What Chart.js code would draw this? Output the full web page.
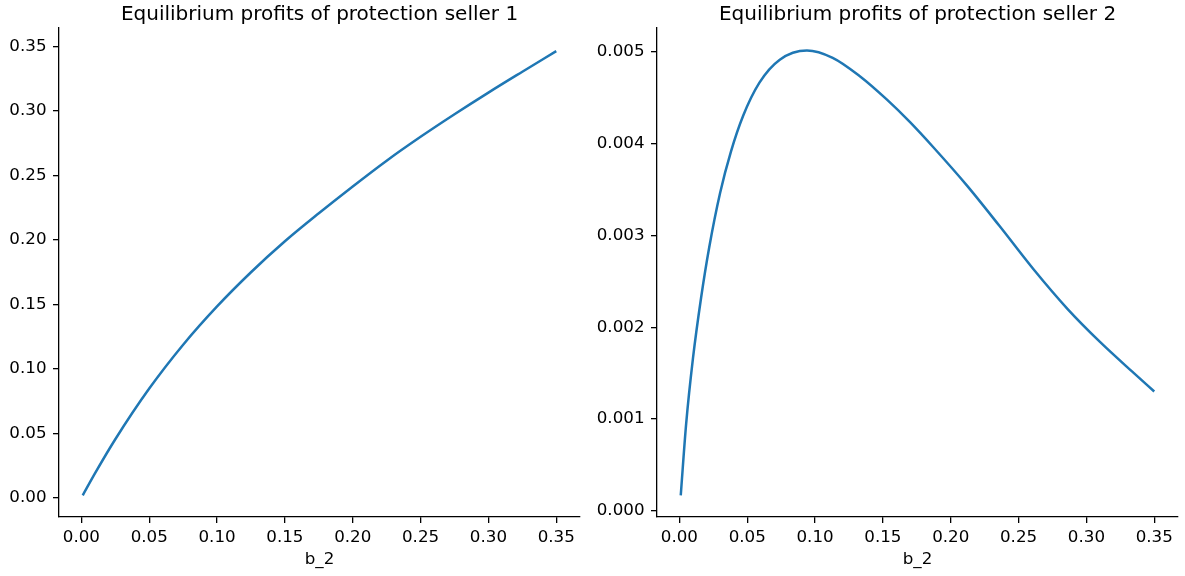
<!DOCTYPE html>
<html>
<head>
<meta charset="utf-8">
<title>Equilibrium profits of protection sellers</title>
<script src="https://cdn.jsdelivr.net/npm/chart.js@4.4.1/dist/chart.umd.min.js"></script>
<style>
  html, body { margin: 0; padding: 0; background: #fff; }
  #wrap { position: relative; width: 1185px; height: 576px; }
  canvas { position: absolute; top: 0; }
  #left { left: 0; width: 592px; height: 576px; }
  #right { left: 592px; width: 593px; height: 576px; }
</style>
</head>
<body>
<div id="wrap">
  <canvas id="left" width="592" height="576"></canvas>
  <canvas id="right" width="593" height="576"></canvas>
</div>
<script>
// Data
const b2Seller1 = [0.001, 0.01, 0.025, 0.05, 0.075, 0.10, 0.125, 0.15, 0.175, 0.20, 0.225, 0.25, 0.275, 0.30, 0.325, 0.35];
const profit1 = [0.002, 0.019, 0.0455, 0.0848, 0.1188, 0.1485, 0.175, 0.199, 0.2207, 0.2415, 0.2615, 0.280, 0.2975, 0.3143, 0.3305, 0.3465];

const b2Seller2 = [0.001, 0.005, 0.01, 0.016, 0.022, 0.03, 0.038, 0.047, 0.059, 0.074, 0.094, 0.113, 0.133, 0.153, 0.17, 0.187, 0.212, 0.236, 0.261, 0.286, 0.31, 0.335, 0.35];
const profit2 = [0.00017, 0.00095, 0.00166, 0.00232, 0.00287, 0.00346, 0.00391, 0.0043, 0.00466, 0.00491, 0.00501, 0.00493, 0.00473, 0.004475, 0.00423, 0.00396, 0.00354, 0.0031, 0.00263, 0.0022, 0.00184, 0.0015, 0.0013];

const xTicks = [0, 0.05, 0.10, 0.15, 0.20, 0.25, 0.30, 0.35];
const yTicks1 = [0, 0.05, 0.10, 0.15, 0.20, 0.25, 0.30, 0.35];
const yTicks2 = [0, 0.001, 0.002, 0.003, 0.004, 0.005];

Chart.defaults.font.family = "'DejaVu Sans', sans-serif";
Chart.defaults.color = "#000";

// One matplotlib-like panel: left and bottom spines, outward ticks, no grid
function makePanel(canvasId, titleText, xs, ys, yTicks, yDecimals, yMin, yMax, yAxisWidth, rightPad) {
  const ctx = document.getElementById(canvasId).getContext("2d");
  const axisGrid = { drawOnChartArea: false, drawTicks: true, tickLength: 6, color: "#000", lineWidth: 1.3 };
  const axisBorder = { display: true, color: "#000", width: 1.3 };

  return new Chart(ctx, {
    type: "line",
    data: {
      datasets: [
        {
          data: xs.map((x, i) => ({ x: x, y: ys[i] })),
          borderColor: "#1f77b4",
          borderWidth: 2.5,
          pointRadius: 0,
          fill: false,
          cubicInterpolationMode: "monotone",
        },
      ],
    },
    options: {
      responsive: false,
      animation: false,
      layout: { padding: { left: 0, right: rightPad, top: 0, bottom: 0 } },
      plugins: {
        legend: { display: false },
        tooltip: { enabled: false },
        title: {
          display: true,
          text: titleText,
          fullSize: false,
          color: "#000",
          font: { size: 20, weight: "normal", lineHeight: 1.2 },
          padding: { top: 3, bottom: 1 },
        },
      },
      scales: {
        x: {
          type: "linear",
          min: -0.0165,
          max: 0.3675,
          afterBuildTicks: (s) => { s.ticks = xTicks.map((v) => ({ value: v })); },
          afterFit: (s) => { s.height = 59; },
          ticks: { callback: (v) => v.toFixed(2), padding: 5, maxRotation: 0, autoSkip: false, font: { size: 16.7 } },
          grid: axisGrid,
          border: axisBorder,
          title: { display: true, text: "b_2", font: { size: 16.7 }, padding: { top: 0, bottom: 6 } },
        },
        y: {
          type: "linear",
          min: yMin,
          max: yMax,
          afterBuildTicks: (s) => { s.ticks = yTicks.map((v) => ({ value: v })); },
          afterFit: (s) => { s.width = yAxisWidth; },
          ticks: { callback: (v) => v.toFixed(yDecimals), padding: 6.5, autoSkip: false, font: { size: 16.7 } },
          grid: axisGrid,
          border: axisBorder,
        },
      },
    },
  });
}

makePanel("left", "Equilibrium profits of protection seller 1", b2Seller1, profit1, yTicks1, 2, -0.0148, 0.3644, 59, 12);
makePanel("right", "Equilibrium profits of protection seller 2", b2Seller2, profit2, yTicks2, 3, -0.000065, 0.005255, 65, 7);
</script>
</body>
</html>
